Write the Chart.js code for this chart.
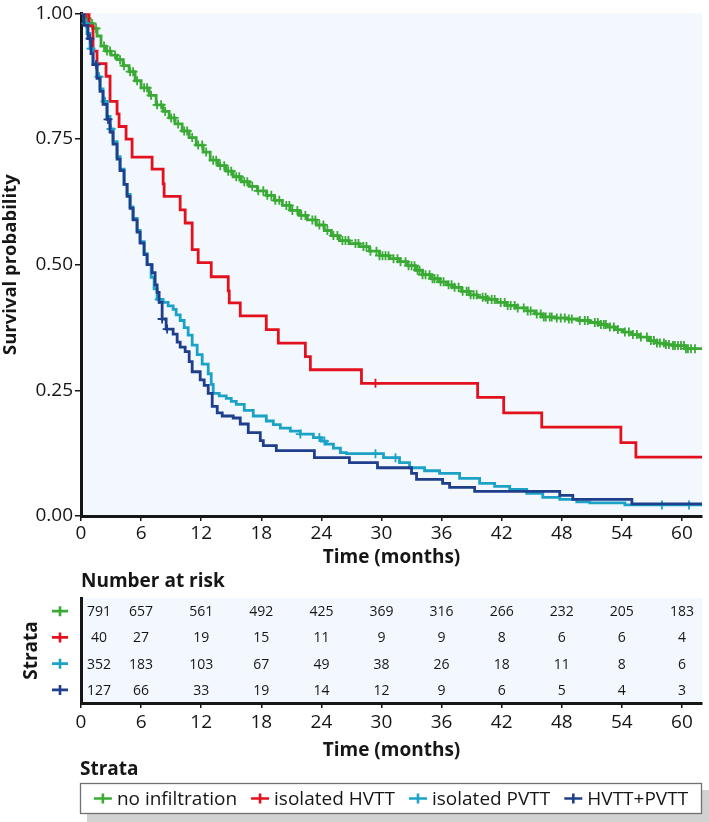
<!DOCTYPE html>
<html>
<head>
<meta charset="utf-8">
<script src="https://cdn.jsdelivr.net/npm/chart.js@4.4.1/dist/chart.umd.min.js"></script>
<style>
  html, body { margin: 0; padding: 0; background: #fff; }
  #wrap { position: relative; width: 709px; height: 822px; }
  #km { position: absolute; left: 0; top: 0; }
  #risk { position: absolute; left: 0; top: 570px; }
</style>
</head>
<body>
<div id="wrap">
  <canvas id="km" width="709" height="570"></canvas>
  <canvas id="risk" width="709" height="252"></canvas>
</div>
<script>
// Strata and colours
const strata = ['no infiltration', 'isolated HVTT', 'isolated PVTT', 'HVTT+PVTT'];
const strataColors = ['#3aaa35', '#e3101e', '#1ba2c6', '#1f3e8c'];

// Axis ticks
const timeTicks = [0, 6, 12, 18, 24, 30, 36, 42, 48, 54, 60];
const survTicks = [0, 0.25, 0.5, 0.75, 1];

// Kaplan-Meier curves: [months, survival]
const survNoInfiltration = [
  [0, 1], [0.4, 0.99], [0.8, 0.98], [1.2, 0.97], [1.6, 0.955], [2.0, 0.935], [2.5, 0.925],
  [3.0, 0.917], [3.6, 0.908], [4.2, 0.896], [4.8, 0.884], [5.4, 0.866], [6.0, 0.852],
  [6.8, 0.837], [7.5, 0.818], [8.2, 0.805], [8.8, 0.792], [9.4, 0.78], [10.1, 0.766],
  [10.8, 0.753], [11.5, 0.738], [12.2, 0.724], [12.9, 0.708], [13.7, 0.697], [14.5, 0.686],
  [15.2, 0.675], [16.0, 0.665], [16.8, 0.656], [17.6, 0.647], [18.5, 0.638], [19.3, 0.628],
  [20.1, 0.618], [20.9, 0.608], [21.8, 0.598], [22.6, 0.589], [23.5, 0.579], [24.3, 0.568],
  [25.0, 0.558], [25.8, 0.548], [26.8, 0.542], [27.8, 0.536], [28.8, 0.527], [29.8, 0.518],
  [30.8, 0.512], [31.8, 0.506], [32.6, 0.498], [33.4, 0.489], [34.1, 0.48], [35.0, 0.472],
  [35.8, 0.466], [36.5, 0.46], [37.1, 0.455], [38.0, 0.447], [38.8, 0.44], [39.6, 0.435],
  [40.5, 0.431], [41.5, 0.425], [42.5, 0.419], [43.5, 0.414], [44.5, 0.408], [45.3, 0.402],
  [46.1, 0.396], [47.3, 0.394], [48.5, 0.392], [49.7, 0.389], [50.8, 0.385], [51.7, 0.381],
  [52.5, 0.376], [53.3, 0.371], [54.1, 0.366], [55.0, 0.361], [55.8, 0.356], [56.7, 0.349],
  [57.5, 0.344], [58.3, 0.341], [59.1, 0.339], [60.3, 0.333], [62, 0.331]
];
const survHVTT = [
  [0, 1], [0.8, 0.975], [1.2, 0.925], [1.6, 0.9], [2.5, 0.875], [2.9, 0.825], [3.6, 0.8],
  [3.8, 0.775], [4.5, 0.75], [5.1, 0.714], [7.1, 0.69], [8.2, 0.661], [8.3, 0.636],
  [9.9, 0.609], [10.4, 0.583], [11.1, 0.53], [11.7, 0.504], [13.0, 0.476], [14.7, 0.448],
  [14.8, 0.424], [15.9, 0.398], [18.5, 0.371], [19.7, 0.344], [22.4, 0.317], [22.9, 0.291],
  [28.0, 0.264], [39.6, 0.236], [42.2, 0.205], [46.0, 0.177], [53.9, 0.146], [55.4, 0.117],
  [62, 0.117]
];
const survPVTT = [
  [0, 1], [0.3, 0.98], [0.6, 0.96], [0.9, 0.93], [1.2, 0.9], [1.6, 0.874], [1.9, 0.85],
  [2.2, 0.825], [2.6, 0.795], [2.9, 0.77], [3.2, 0.745], [3.6, 0.715], [3.9, 0.69],
  [4.3, 0.66], [4.6, 0.64], [4.9, 0.615], [5.2, 0.592], [5.6, 0.568], [5.9, 0.546],
  [6.3, 0.522], [6.6, 0.5], [7.0, 0.475], [7.3, 0.452], [7.6, 0.431], [8.2, 0.425],
  [8.7, 0.418], [9.2, 0.411], [9.5, 0.4], [9.9, 0.389], [10.3, 0.375], [10.7, 0.36],
  [11.1, 0.34], [11.6, 0.321], [12.1, 0.302], [12.7, 0.283], [13.0, 0.262], [13.2, 0.244],
  [13.8, 0.239], [14.5, 0.234], [15.0, 0.228], [15.5, 0.222], [16.3, 0.21], [17.2, 0.199],
  [18.5, 0.189], [19.2, 0.182], [19.9, 0.175], [20.9, 0.169], [21.9, 0.163], [23.2, 0.156],
  [24.0, 0.149], [24.5, 0.143], [25.2, 0.135], [25.9, 0.126], [26.5, 0.124], [30.2, 0.116],
  [31.8, 0.106], [32.8, 0.096], [34.3, 0.09], [35.8, 0.085], [37.8, 0.075], [39.8, 0.065],
  [41.3, 0.059], [42.8, 0.053], [44.5, 0.045], [46.1, 0.037], [47.8, 0.033], [49.5, 0.028],
  [50.8, 0.026], [54.3, 0.022], [62, 0.022]
];
const survBoth = [
  [0, 1], [0.3, 0.976], [0.7, 0.95], [1.0, 0.92], [1.2, 0.898], [1.6, 0.871], [1.9, 0.845],
  [2.2, 0.819], [2.6, 0.789], [2.9, 0.764], [3.2, 0.74], [3.6, 0.71], [3.9, 0.687],
  [4.3, 0.66], [4.6, 0.636], [4.9, 0.612], [5.2, 0.589], [5.6, 0.565], [5.9, 0.543],
  [6.3, 0.52], [6.6, 0.5], [7.1, 0.484], [7.4, 0.46], [7.6, 0.445], [7.8, 0.425],
  [8.1, 0.392], [8.5, 0.372], [9.2, 0.362], [9.6, 0.346], [9.9, 0.336], [10.4, 0.327],
  [10.8, 0.307], [11.1, 0.287], [11.9, 0.271], [12.3, 0.26], [12.7, 0.244], [13.1, 0.218],
  [13.6, 0.205], [14.1, 0.199], [15.2, 0.195], [15.9, 0.183], [16.7, 0.166], [17.9, 0.15],
  [18.2, 0.14], [19.5, 0.13], [23.3, 0.116], [26.8, 0.106], [29.6, 0.096], [33.0, 0.085],
  [33.5, 0.073], [36.1, 0.065], [36.8, 0.057], [39.3, 0.049], [47.8, 0.041], [49.1, 0.033],
  [55.0, 0.024], [62, 0.024]
];

// Censoring times (months)
const censorNoInfiltration = [
  0.6, 1.1, 1.5, 2.3, 2.6, 2.9, 3.4, 3.9, 4.3, 4.9, 5.2, 5.6, 6.3, 6.6, 7.0, 7.6, 8.0, 8.4,
  9.0, 9.3, 9.7, 10.3, 10.6, 11.1, 11.7, 12.1, 12.5, 13.2, 13.5, 13.9, 14.3, 14.7, 15.0,
  15.5, 15.8, 16.3, 16.6, 17.1, 17.7, 18.2, 18.6, 19.0, 19.4, 19.8, 20.5, 20.8, 21.1, 21.6,
  22.0, 22.4, 23.1, 23.4, 23.8, 24.2, 24.6, 25.2, 25.6, 26.1, 26.4, 26.7, 27.4, 27.7, 28.2,
  28.5, 28.9, 29.5, 29.8, 30.1, 30.4, 30.7, 31.2, 31.6, 31.9, 32.4, 32.7, 33.0, 33.3, 33.6,
  33.8, 34.1, 34.4, 34.8, 35.1, 35.3, 35.6, 35.9, 36.2, 36.7, 37.0, 37.3, 37.7, 38.1, 38.5,
  38.7, 38.9, 39.2, 39.5, 40.1, 40.4, 40.6, 41.0, 41.3, 41.9, 42.3, 42.6, 42.9, 43.3, 43.6,
  44.2, 44.6, 44.9, 45.5, 45.9, 46.2, 46.4, 46.8, 47.0, 47.5, 47.9, 48.3, 48.7, 49.0, 49.8,
  50.3, 50.6, 51.3, 51.6, 51.9, 52.2, 52.4, 52.8, 53.2, 53.6, 54.3, 54.7, 55.1, 55.5, 55.9,
  56.5, 56.9, 57.2, 57.5, 57.8, 58.2, 58.4, 58.7, 59.1, 59.3, 59.6, 59.9, 60.2, 60.4, 60.6,
  60.9, 61.3
];
const censorHVTT = [0.5, 29.4];
const censorPVTT = [0.5, 1.0, 1.8, 2.4, 3.0, 7.8, 21.9, 23.8, 24.3, 29.4, 31.4, 58.0, 60.7];
const censorBoth = [0.9, 1.5, 2.7, 8.1, 8.6];

// Number at risk table
const riskTimes = [0, 6, 12, 18, 24, 30, 36, 42, 48, 54, 60];
const riskNoInfiltration = [791, 657, 561, 492, 425, 369, 316, 266, 232, 205, 183];
const riskHVTT = [40, 27, 19, 15, 11, 9, 9, 8, 6, 6, 4];
const riskPVTT = [352, 183, 103, 67, 49, 38, 26, 18, 11, 8, 6];
const riskBoth = [127, 66, 33, 19, 14, 12, 9, 6, 5, 4, 3];

const curves = [survNoInfiltration, survHVTT, survPVTT, survBoth];
const censors = [censorNoInfiltration, censorHVTT, censorPVTT, censorBoth];
const riskCounts = [riskNoInfiltration, riskHVTT, riskPVTT, riskBoth];

const panelColor = '#f2f8fd';
const inkColor = '#161616';
const fontFamily = "'Open Sans', sans-serif";
Chart.defaults.font.family = fontFamily;
Chart.defaults.color = inkColor;

// survival level of a step curve at time t (censor marks sit on the curve)
function levelAt(curve, t) {
  let s = curve[0][1];
  curve.forEach(([x, y]) => { if (x <= t) s = y; });
  return s;
}

// light blue panel behind the plotting area
const panelFill = {
  id: 'panelFill',
  beforeDraw(chart) {
    const { ctx, chartArea: a } = chart;
    ctx.save();
    ctx.fillStyle = panelColor;
    ctx.fillRect(a.left, a.top, a.right - a.left, a.bottom - a.top);
    ctx.restore();
  }
};

function drawPlus(ctx, x, y, color, halfW, halfH) {
  ctx.save();
  ctx.strokeStyle = color;
  ctx.lineWidth = 2.6;
  ctx.beginPath();
  ctx.moveTo(x - halfW, y);
  ctx.lineTo(x + halfW, y);
  ctx.moveTo(x, y - halfH);
  ctx.lineTo(x, y + halfH);
  ctx.stroke();
  ctx.restore();
}

// ---------- Survival curves ----------
const kmDatasets = [];
strata.forEach((name, i) => {
  kmDatasets.push({
    label: name,
    data: curves[i].map(([x, y]) => ({ x, y })),
    stepped: 'before',
    borderColor: strataColors[i],
    borderWidth: 2.8,
    pointRadius: 0,
    fill: false,
    order: 10 - i * 2
  });
  kmDatasets.push({
    label: name + ' (censored)',
    type: 'scatter',
    data: censors[i].map(t => ({ x: t, y: levelAt(curves[i], t) })),
    showLine: false,
    pointStyle: 'cross',
    pointRadius: 4.5,
    pointBorderWidth: 1.8,
    pointBorderColor: strataColors[i],
    pointBackgroundColor: strataColors[i],
    order: 9 - i * 2
  });
});

new Chart(document.getElementById('km'), {
  type: 'line',
  data: { datasets: kmDatasets },
  options: {
    responsive: false,
    animation: false,
    events: [],
    layout: { padding: { top: 8, right: 7, left: 0, bottom: 0 } },
    plugins: { legend: { display: false }, tooltip: { enabled: false } },
    scales: {
      x: {
        type: 'linear',
        min: 0,
        max: 62,
        afterBuildTicks: s => { s.ticks = timeTicks.map(v => ({ value: v })); },
        afterFit: s => { s.height = 54; },
        ticks: { font: { size: 19 }, color: inkColor, padding: 1, maxRotation: 0 },
        grid: { drawOnChartArea: false, tickLength: 5, color: inkColor, lineWidth: 1.5 },
        border: { color: inkColor, width: 3 },
        title: { display: true, text: 'Time (months)', font: { size: 19, weight: 'bold' }, color: inkColor, padding: { top: 0, bottom: 1 } }
      },
      y: {
        min: 0,
        max: 1,
        afterBuildTicks: s => { s.ticks = survTicks.map(v => ({ value: v })); },
        afterFit: s => { s.width = 81; },
        ticks: { font: { size: 19 }, color: inkColor, padding: 2, callback: v => v.toFixed(2) },
        grid: { drawOnChartArea: false, tickLength: 6, color: inkColor, lineWidth: 1.5 },
        border: { color: inkColor, width: 3 },
        title: { display: true, text: 'Survival probability', font: { size: 18.5, weight: 'bold' }, color: inkColor, padding: { top: 0, bottom: 0 } }
      }
    }
  },
  plugins: [panelFill]
});

// ---------- Number at risk table + strata legend ----------
const riskTable = {
  id: 'riskTable',
  afterDatasetsDraw(chart) {
    const { ctx, chartArea: a, scales: { y } } = chart;
    ctx.save();
    ctx.font = '14px ' + fontFamily;
    ctx.fillStyle = inkColor;
    ctx.textAlign = 'center';
    ctx.textBaseline = 'middle';
    riskCounts.forEach((row, i) => {
      const meta = chart.getDatasetMeta(i);
      meta.data.forEach((pt, j) => {
        // first column sits a little inside the panel
        const x = riskTimes[j] === 0 ? pt.x + 18 : pt.x;
        ctx.fillText(String(row[j]), x, pt.y + 1);
      });
      drawPlus(ctx, a.left - 21, y.getPixelForValue(i), strataColors[i], 8, 5);
    });
    ctx.font = 'bold 19px ' + fontFamily;
    ctx.textAlign = 'left';
    ctx.fillText('Number at risk', a.left, a.top - 16);
    ctx.restore();
  },
  afterDraw(chart) {
    const { ctx, chartArea: a, scales: { x } } = chart;
    const boxL = a.left - 1;
    const boxR = a.right;
    const boxTop = x.bottom + 21;
    const boxH = 31;
    ctx.save();
    // title
    ctx.font = 'bold 19px ' + fontFamily;
    ctx.fillStyle = inkColor;
    ctx.textAlign = 'left';
    ctx.textBaseline = 'middle';
    ctx.fillText('Strata', boxL, boxTop - 13.5);
    // shadow + box
    ctx.fillStyle = '#d2d2d2';
    ctx.fillRect(boxL + 7, boxTop + 7, boxR - boxL, boxH + 2);
    ctx.fillStyle = '#fff';
    ctx.fillRect(boxL, boxTop, boxR - boxL, boxH);
    ctx.strokeStyle = '#707070';
    ctx.lineWidth = 1.3;
    ctx.strokeRect(boxL + 0.5, boxTop + 0.5, boxR - boxL - 1, boxH - 1);
    // items
    ctx.font = '19px ' + fontFamily;
    const markW = 18, markGap = 5, itemGap = 14;
    const widths = strata.map(s => markW + markGap + ctx.measureText(s).width);
    const total = widths.reduce((p, w) => p + w, 0) + itemGap * (strata.length - 1);
    let cx = (boxL + boxR) / 2 - total / 2;
    const cy = boxTop + boxH / 2;
    strata.forEach((s, i) => {
      drawPlus(ctx, cx + markW / 2, cy, strataColors[i], markW / 2, 5);
      ctx.fillStyle = inkColor;
      ctx.fillText(s, cx + markW + markGap, cy + 1);
      cx += widths[i] + itemGap;
    });
    ctx.restore();
  }
};

new Chart(document.getElementById('risk'), {
  type: 'line',
  data: {
    datasets: strata.map((name, i) => ({
      label: name,
      data: riskTimes.map(t => ({ x: t, y: name })),
      showLine: false,
      pointRadius: 0,
      borderColor: strataColors[i]
    }))
  },
  options: {
    responsive: false,
    animation: false,
    events: [],
    layout: { padding: { top: 28, right: 7, left: 0, bottom: 60 } },
    plugins: { legend: { display: false }, tooltip: { enabled: false } },
    scales: {
      x: {
        type: 'linear',
        min: 0,
        max: 62,
        afterBuildTicks: s => { s.ticks = timeTicks.map(v => ({ value: v })); },
        afterFit: s => { s.height = 59; },
        ticks: { font: { size: 19 }, color: inkColor, padding: 3, maxRotation: 0 },
        grid: { drawOnChartArea: false, tickLength: 5, color: inkColor, lineWidth: 1.5 },
        border: { color: inkColor, width: 3 },
        title: { display: true, text: 'Time (months)', font: { size: 19, weight: 'bold' }, color: inkColor, padding: { top: 0, bottom: 0 } }
      },
      y: {
        type: 'category',
        labels: strata,
        offset: true,
        afterFit: s => { s.width = 81; },
        ticks: { display: false },
        grid: { display: false },
        border: { color: inkColor, width: 3 },
        title: { display: true, text: 'Strata', font: { size: 19, weight: 'bold' }, color: inkColor, padding: { top: 20, bottom: 0 } }
      }
    }
  },
  plugins: [panelFill, riskTable]
});
</script>
</body>
</html>
